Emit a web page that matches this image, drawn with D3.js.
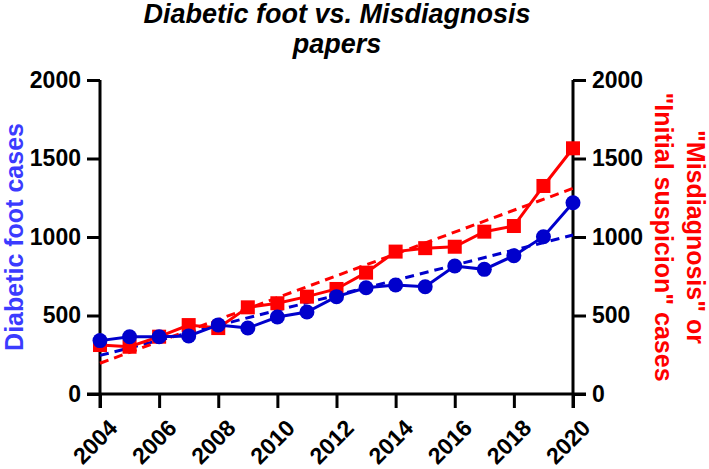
<!DOCTYPE html>
<html>
<head>
<meta charset="utf-8">
<script src="https://cdn.jsdelivr.net/npm/d3@7"></script>
<style>
  html, body { margin: 0; padding: 0; background: #fff; }
  text { font-family: "Liberation Sans", Arial, sans-serif; font-weight: bold; }
</style>
</head>
<body>
<svg id="chart" width="709" height="469"></svg>
<script>
const years = [2004,2005,2006,2007,2008,2009,2010,2011,2012,2013,2014,2015,2016,2017,2018,2019,2020];
const diabeticFoot = [340,365,365,370,440,420,490,522,620,677,694,683,815,794,881,1002,1218];
const misdiagnosis = [312,301,365,439,420,552,578,620,669,773,907,929,938,1034,1070,1325,1565];
const xTicks = [2004,2006,2008,2010,2012,2014,2016,2018,2020];
const yTicks = [0,500,1000,1500,2000];
const titleLines = ["Diabetic foot vs. Misdiagnosis", "papers"];
const leftLabel = "Diabetic foot cases";
const rightLabelLines = ["\"Misdiagnosis\" or", "\"Initial suspicion\" cases"];

const blue = "#0000cc", red = "#ff0000", labelBlue = "#3b3bff";
const svg = d3.select("#chart");
const m = {left: 100, right: 573, top: 80, bottom: 394};

const x = d3.scaleLinear().domain([2004, 2020]).range([m.left, m.right]);
const yL = d3.scaleLinear().domain([0, 2000]).range([m.bottom, m.top]);
const yR = d3.scaleLinear().domain([0, 2000]).range([m.bottom, m.top]);

function fit(xs, ys) {
  const n = xs.length, mx = d3.mean(xs), my = d3.mean(ys);
  let sxy = 0, sxx = 0;
  for (let i = 0; i < n; i++) { sxy += (xs[i]-mx)*(ys[i]-my); sxx += (xs[i]-mx)**2; }
  const b = sxy / sxx, a = my - b*mx;
  return [[xs[0], a + b*xs[0]], [xs[n-1], a + b*xs[n-1]]];
}

// Title
svg.append("text").attr("text-anchor", "middle")
  .style("font-style", "italic").style("font-size", "27px")
  .selectAll("tspan").data(titleLines).join("tspan")
  .attr("x", 337).attr("y", (d, i) => 23 + i * 30).text(d => d);

// Axes
function styleAxis(g) {
  g.selectAll(".domain").attr("stroke", "#000").attr("stroke-width", 3);
  g.selectAll(".tick line").attr("stroke", "#000").attr("stroke-width", 3);
  g.selectAll(".tick text").attr("fill", "#000").style("font-size", "23px").style("font-family", "'Liberation Sans', Arial, sans-serif").style("font-weight", "bold");
}
const gx = svg.append("g").attr("transform", `translate(0,${m.bottom})`)
  .call(d3.axisBottom(x).tickValues(xTicks).tickFormat(d3.format("d")).tickSize(14).tickSizeOuter(0));
styleAxis(gx);
gx.select(".domain").attr("d", `M${m.left-13},0H${m.right+13}`);
gx.selectAll(".tick text").attr("text-anchor", "end")
  .attr("transform", "translate(7,24) rotate(-45)").attr("dy", "0.7em").attr("y", 0);

const gl = svg.append("g").attr("transform", `translate(${m.left},0)`)
  .call(d3.axisLeft(yL).tickValues(yTicks).tickFormat(d3.format("d")).tickSize(13).tickSizeOuter(0).tickPadding(6));
styleAxis(gl);
gl.select(".domain").attr("d", `M0,${m.top}V${m.bottom+14}`);

const gr = svg.append("g").attr("transform", `translate(${m.right},0)`)
  .call(d3.axisRight(yR).tickValues(yTicks).tickFormat(d3.format("d")).tickSize(13).tickSizeOuter(0).tickPadding(6));
styleAxis(gr);
gr.select(".domain").attr("d", `M0,${m.top}V${m.bottom+14}`);

// Axis titles
svg.append("text").attr("transform", `translate(23,${(m.top+m.bottom)/2}) rotate(-90)`)
  .attr("text-anchor", "middle").attr("fill", labelBlue).style("font-size", "25px").text(leftLabel);
const rt = svg.append("text").attr("transform", `translate(687,${(m.top+m.bottom)/2}) rotate(90)`)
  .attr("text-anchor", "middle").attr("fill", red).style("font-size", "25px");
rt.selectAll("tspan").data(rightLabelLines).join("tspan")
  .attr("x", 0).attr("y", (d, i) => i * 32).text(d => d);

// Trend lines
const line = sc => d3.line().x(d => x(d[0])).y(d => sc(d[1]));
const blueFit = fit(years, diabeticFoot), redFit = fit(years, misdiagnosis);
svg.append("path").attr("d", line(yL)(blueFit)).attr("fill", "none")
  .attr("stroke", blue).attr("stroke-width", 3).attr("stroke-dasharray", "9,6");
svg.append("path").attr("d", line(yR)(redFit)).attr("fill", "none")
  .attr("stroke", red).attr("stroke-width", 3).attr("stroke-dasharray", "9,6");

// Red series (right axis)
const redPts = years.map((yr, i) => [yr, misdiagnosis[i]]);
svg.append("path").attr("d", line(yR)(redPts)).attr("fill", "none")
  .attr("stroke", red).attr("stroke-width", 3);
svg.append("g").selectAll("rect").data(redPts).join("rect")
  .attr("x", d => x(d[0]) - 7).attr("y", d => yR(d[1]) - 7)
  .attr("width", 14).attr("height", 14).attr("fill", red);

// Blue series (left axis)
const bluePts = years.map((yr, i) => [yr, diabeticFoot[i]]);
svg.append("path").attr("d", line(yL)(bluePts)).attr("fill", "none")
  .attr("stroke", blue).attr("stroke-width", 3);
svg.append("g").selectAll("circle").data(bluePts).join("circle")
  .attr("cx", d => x(d[0])).attr("cy", d => yL(d[1])).attr("r", 7.5).attr("fill", blue);
</script>
</body>
</html>
